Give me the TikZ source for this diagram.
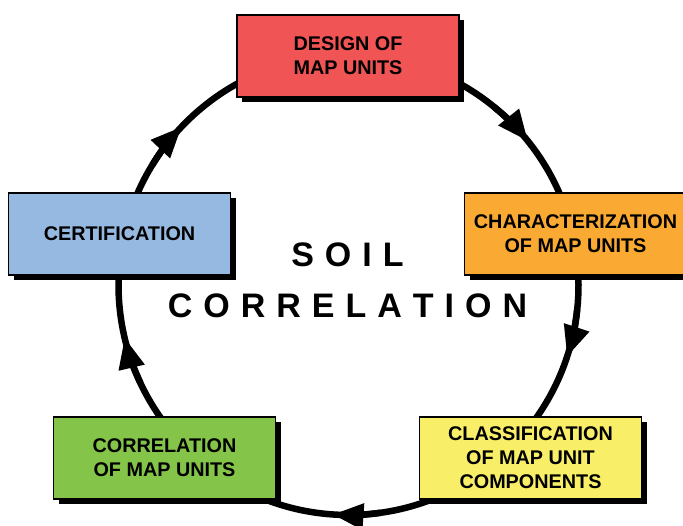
\documentclass[tikz,border=0pt]{standalone}
\usepackage{fontspec}
\setmainfont{Liberation Sans}
\usetikzlibrary{arrows.meta,shadows}
\definecolor{cred}{HTML}{F05454}
\definecolor{corange}{HTML}{FAAA32}
\definecolor{cyellow}{HTML}{F8EE68}
\definecolor{cgreen}{HTML}{84C448}
\definecolor{cblue}{HTML}{96B9E1}
\begin{document}
\begin{tikzpicture}[x=1pt,y=1pt,
  stage/.style={draw=black, line width=1.2pt, minimum width=222pt, minimum height=82pt,
    inner sep=0pt, align=center, font=\fontsize{19.8}{24}\selectfont\bfseries,
    drop shadow={shadow xshift=5pt, shadow yshift=-5pt, fill=black, opacity=1}},
  ring/.style={line width=6.5pt},
  tipseg/.style={line width=6.5pt, -{Triangle[length=31pt,width=25pt]}},
  bigword/.style={font=\fontsize{34}{40}\selectfont\bfseries, inner sep=0pt, anchor=base}]
\useasboundingbox (0,0) rectangle (683,525);
\coordinate (c) at (348.5,240);
\draw[ring] (c) circle[radius=230pt];
\foreach \t in {136.5,38.7,-18.2,-94,193.2}
  \draw[tipseg] ([shift={(\t+12:230pt)}]c) arc[start angle=\t+12, end angle=\t, radius=230pt];
\node[stage, fill=cred] (design) at (348,469) {DESIGN OF\\MAP UNITS};
\node[stage, fill=corange] (charac) at (575.5,291) {CHARACTERIZATION\\OF MAP UNITS};
\node[stage, fill=cyellow] (classif) at (530.5,67) {CLASSIFICATION\\OF MAP UNIT\\COMPONENTS};
\node[stage, fill=cgreen] (correl) at (164.5,67) {CORRELATION\\OF MAP UNITS};
\node[stage, fill=cblue] (cert) at (119.5,291) {CERTIFICATION};
\node[bigword] (soil) at (347.5,258) {S\kern11pt O\kern11pt I\kern11pt L};
\node[bigword] (corr) at (347.5,207) {C\kern11pt O\kern11pt R\kern11pt R\kern11pt E\kern11pt L\kern11pt A\kern11pt T\kern11pt I\kern11pt O\kern11pt N};
\end{tikzpicture}
\end{document}
